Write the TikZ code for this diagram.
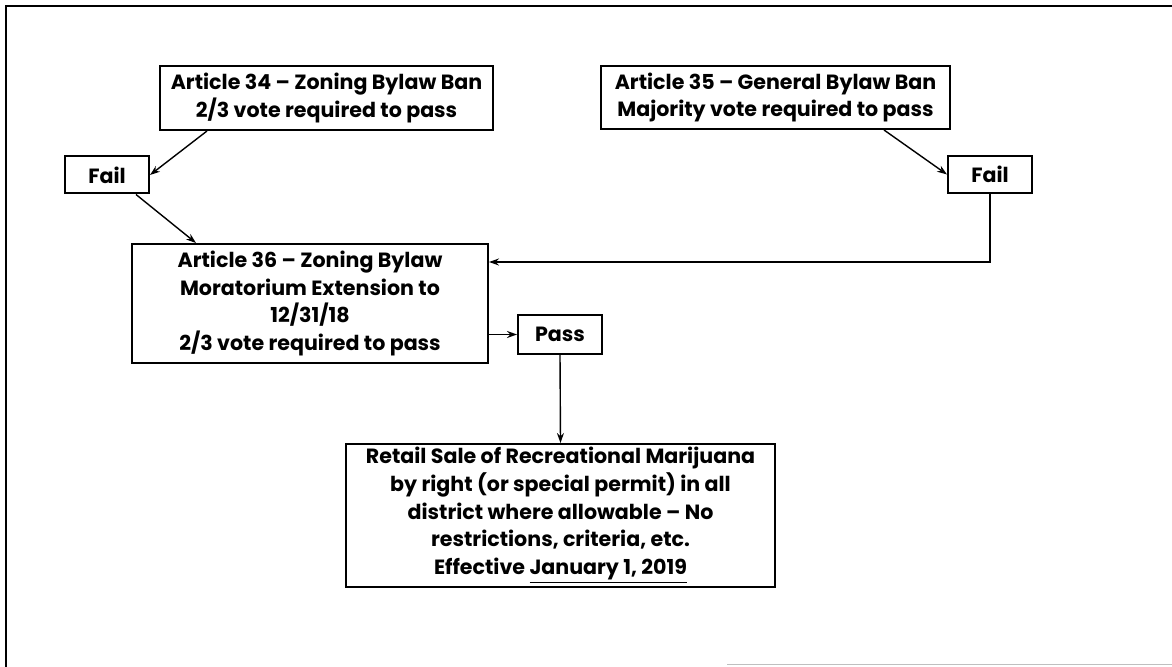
\documentclass[tikz,border=0pt]{standalone}
\usepackage{fontspec}
\setmainfont{Poppins}
\usepackage{tikz}
\usetikzlibrary{arrows.meta, positioning}
\tikzset{%
	every article/.style={
		rectangle,
		draw,
		line width=1pt,
		align=center,
		inner sep=0pt,
		font=\fontsize{10.3}{13.8}\selectfont\bfseries
	},
	vote result/.style={
		every article,
		minimum width=42pt,
		minimum height=18.5pt
	},
	flow/.style={
		-{Stealth[length=5pt,width=3.5pt]},
		line width=0.7pt
	},
}

\begin{document}
\begin{tikzpicture}[x=0.5pt, y=-0.5pt]
			\useasboundingbox (0,0) rectangle (1172,667);
			
			% Draw the page frame
			\draw[line width=1.3pt] (6,667) -- (6,6) -- (1172,6);
			\draw[black!25, line width=0.5pt] (727,664) -- (1172,664);
			
			% Draw the two ban articles
			\node[every article, minimum width=166.5pt, minimum height=32pt] (art34) at (326.5,98)
			{Article 34 -- Zoning Bylaw Ban\\2/3 vote required to pass};
			\node[every article, minimum width=174.5pt, minimum height=31.5pt] (art35) at (775.5,97.5)
			{Article 35 -- General Bylaw Ban\\Majority vote required to pass};
			
			% Draw the fail boxes
			\node[vote result] (faila) at (107,175) {Fail};
			\node[vote result] (failb) at (990,174.5) {Fail};
			
			% Draw the moratorium article
			\node[every article, minimum width=178pt, minimum height=59.5pt] (art36) at (310,303.5)
			{Article 36 -- Zoning Bylaw\\Moratorium Extension to\\12/31/18\\2/3 vote required to pass};
			
			% Draw the pass box
			\node[vote result, minimum height=19.5pt] (pass) at (560,334.5) {Pass};
			
			% Draw the retail box
			\node[every article, minimum width=214.5pt, minimum height=71.5pt] (retail) at (560.5,515.5)
			{Retail Sale of Recreational Marijuana\\by right (or special permit) in all\\district where allowable -- No\\restrictions, criteria, etc.\\Effective \underline{January 1, 2019}};
			
			% Draw the arrows
			\draw[flow] ([xshift=24pt]art34.south west) -- (faila.east);
			\draw[flow] ([xshift=-7pt]faila.south east) -- ([xshift=32.5pt]art36.north west);
			\draw[flow] ([xshift=-33.5pt]art35.south east) -- (failb.west);
			\draw[flow] (failb.south) |- ([yshift=-9.5pt]art36.north east);
			\draw[flow] (art36.east |- pass.west) -- (pass.west);
			\draw[flow] (pass.south) -- (retail.north);
			
		\end{tikzpicture}
\end{document}
